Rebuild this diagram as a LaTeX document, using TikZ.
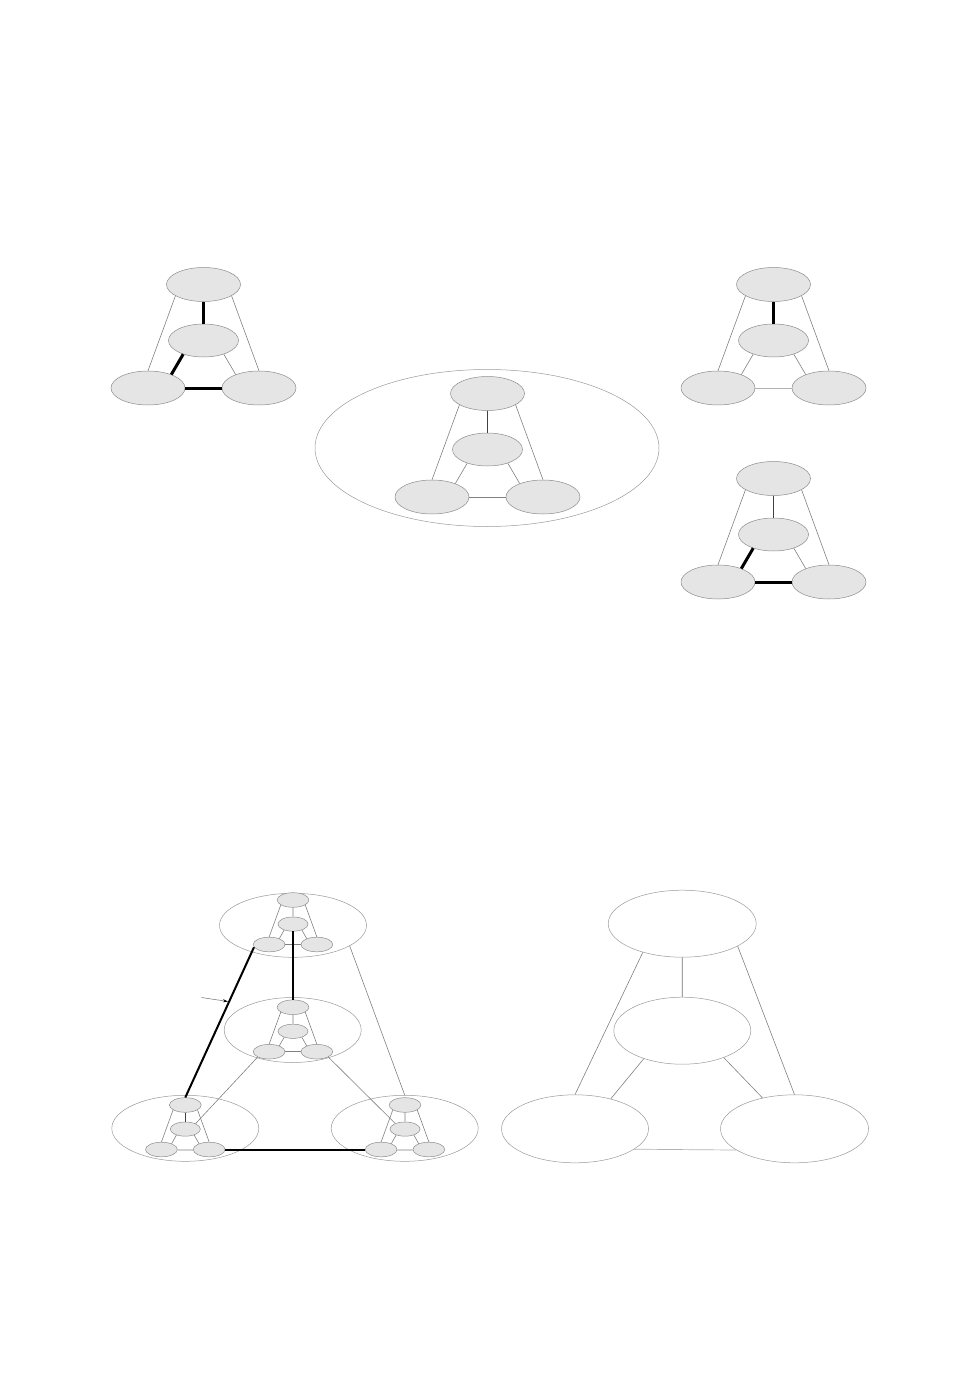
\documentclass[tikz,border=0pt]{standalone}
\usetikzlibrary{shapes.geometric,arrows.meta}
\tikzset{
  vertex/.style={ellipse, draw=black!45, fill=black!10, line width=0.5pt,
    inner sep=0pt, minimum width=#1*74pt, minimum height=#1*34pt},
  midvertex/.style={vertex=#1, minimum width=#1*70pt, minimum height=#1*33pt},
  cluster/.style={ellipse, draw=black!40, line width=0.5pt, inner sep=0pt},
  link/.style={draw=black!50, line width=0.6pt},
  darklink/.style={draw=black!75, line width=0.7pt},
  palelink/.style={draw=black!30, line width=0.7pt},
  heavy/.style={draw=black, line width=3pt},
  ghost/.style={draw=black!18, line width=2pt},
  sideedge/.style={link}, tmedge/.style={link}, mledge/.style={link},
  mredge/.style={link}, lredge/.style={link},
}
% one triangle of four ellipses: name, x, y (of the bottom row), size factor
\newcommand{\triad}[4]{%
  \node[vertex=#4] (#1t) at (#2, #3-103.5*#4) {};
  \node[midvertex=#4] (#1m) at (#2, #3-47.5*#4) {};
  \node[vertex=#4] (#1l) at (#2-55.5*#4, #3) {};
  \node[vertex=#4] (#1r) at (#2+55.5*#4, #3) {};
  \draw[sideedge] (#1t.202) -- (#1l.north);
  \draw[sideedge] (#1t.338) -- (#1r.north);
  \draw[tmedge] (#1t.south) -- (#1m.north);
  \draw[mledge] (#1m.214) -- (#1l.30);
  \draw[mredge] (#1m.326) -- (#1r.150);
  \draw[lredge] (#1l.east) -- (#1r.west);
}

\begin{document}
\begin{tikzpicture}[x=1pt, y=-1pt]
  \useasboundingbox (0,0) rectangle (954,1388);

  % upper row
  \begin{scope}[tmedge/.style={heavy}, mledge/.style={heavy}, lredge/.style={heavy}]
    \triad{left}{203.5}{388}{1}
  \end{scope}
  \begin{scope}[tmedge/.style={heavy}, lredge/.style={palelink}]
    \triad{right}{773.5}{388}{1}
  \end{scope}
  \begin{scope}[tmedge/.style={darklink}, mledge/.style={heavy}, lredge/.style={heavy}]
    \triad{lower}{773.5}{582}{1}
  \end{scope}
  \node[cluster, minimum width=344pt, minimum height=157pt] (hull) at (487,448) {};
  \begin{scope}[tmedge/.style={darklink}]
    \triad{core}{487.5}{497}{1}
  \end{scope}

  % composite graph, left
  \node[cluster, minimum width=147pt, minimum height=64pt] (gUp) at (293,925.3) {};
  \node[cluster, minimum width=137pt, minimum height=65pt] (gCen) at (292.7,1030) {};
  \node[cluster, minimum width=147pt, minimum height=66pt] (gSW) at (185.3,1128.3) {};
  \node[cluster, minimum width=147pt, minimum height=66pt] (gSE) at (404.7,1128.3) {};
  \begin{scope}[tmedge/.style={ghost}]
    \triad{up}{293}{944.5}{0.43}
    \triad{cen}{293}{1051.7}{0.43}
  \end{scope}
  \begin{scope}[tmedge/.style={darklink}, lredge/.style={ghost}]
    \triad{sw}{185.3}{1149.5}{0.43}
  \end{scope}
  \begin{scope}[tmedge/.style={ghost}, lredge/.style={ghost}]
    \triad{se}{405}{1149.5}{0.43}
  \end{scope}
  \draw[heavy, line width=2pt] (upl.190) -- (swt.north);
  \draw[heavy, line width=2pt] (upm.south) -- (cent.north);
  \draw[heavy, line width=2pt] (swr.east) -- (sel.west);
  \draw[link] (cenl.205) -- (swm.28);
  \draw[link] (cenr.335) -- (sem.150);
  \draw[link] (gUp.340) -- (gSE.north);
  \coordinate (tail) at (201.5,997.5);
  \coordinate (tip) at (228,1001.5);
  \draw[link, -{Stealth[length=5pt, width=3pt, black]}] (tail) -- (tip);

  % composite graph, right
  \node[cluster, minimum width=148pt, minimum height=67pt] (hUp) at (682.2,923.7) {};
  \node[cluster, minimum width=137pt, minimum height=67pt] (hCen) at (682.3,1030.7) {};
  \node[cluster, minimum width=147pt, minimum height=68pt] (hSW) at (575,1128.8) {};
  \node[cluster, minimum width=148pt, minimum height=68pt] (hSE) at (794.5,1128.8) {};
  \draw[darklink, draw=black!55] (hUp.south) -- (hCen.north);
  \draw[link] (hUp.216) -- (hSW.north);
  \draw[link] (hUp.338) -- (hSE.north);
  \draw[link] (hCen.216) -- (hSW.40);
  \draw[link] (hCen.327) -- (hSE.136);
  \draw[palelink] (hSW.341) -- (hSE.200);
\end{tikzpicture}
\end{document}
